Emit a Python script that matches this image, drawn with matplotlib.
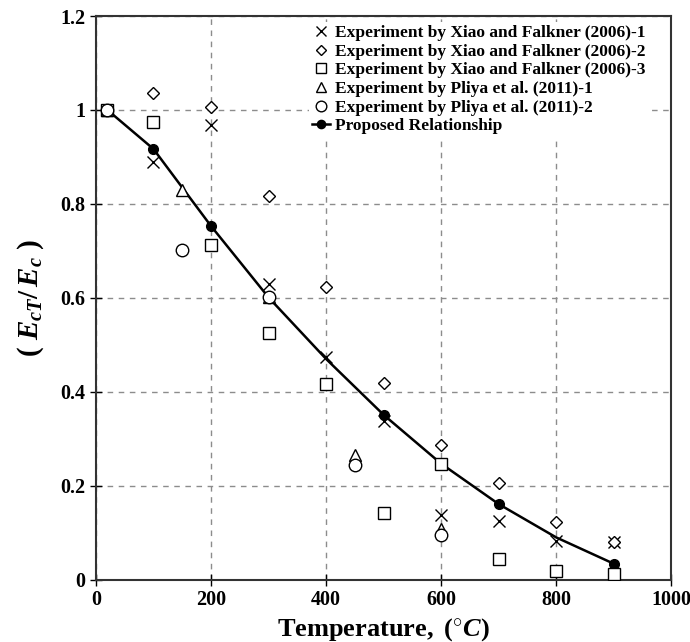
import matplotlib
matplotlib.use("Agg")
from matplotlib import pyplot as plt

plt.rcParams['font.family'] = 'Liberation Serif'
plt.rcParams['font.weight'] = 'bold'
plt.rcParams['mathtext.fontset'] = 'custom'
plt.rcParams['mathtext.rm'] = 'Liberation Serif:bold'
plt.rcParams['mathtext.it'] = 'Liberation Serif:bold:italic'
plt.rcParams['mathtext.bf'] = 'Liberation Serif:bold'

# Xiao and Falkner (2006)
xiao_temp = [20, 100, 200, 300, 400, 500, 600, 700, 800, 900]
xiao_1 = [1.0, 0.890, 0.968, 0.630, 0.474, 0.338, 0.137, 0.125, 0.083, 0.081]
xiao_2 = [1.0, 1.037, 1.006, 0.817, 0.623, 0.419, 0.287, 0.205, 0.123, 0.081]
xiao_3 = [1.0, 0.974, 0.713, 0.525, 0.417, 0.141, 0.247, 0.045, 0.019, 0.012]

# Pliya et al. (2011)
pliya_temp = [20, 150, 300, 450, 600]
pliya_1 = [1.0, 0.830, 0.601, 0.265, 0.107]
pliya_2 = [1.0, 0.703, 0.601, 0.245, 0.096]

# Proposed relationship
prop_temp = [20, 100, 200, 300, 400, 500, 600, 700, 800, 900]
prop_val = [1.0, 0.917, 0.753, 0.601, 0.470, 0.351, 0.247, 0.161, 0.090, 0.034]

fig = plt.figure(figsize=(6.9, 6.42), dpi=100)
ax = fig.add_axes([0.139, 0.097, 0.834, 0.878])

# proposed curve underneath the open markers
ax.plot(prop_temp, prop_val, color='black', linewidth=1.8, marker='o', markersize=7,
        markerfacecolor='black', markevery=[0, 1, 2, 3, 5, 6, 7, 9],
        label='Proposed Relationship', zorder=2)

mk = dict(linestyle='none', markerfacecolor='white', markeredgecolor='black',
          markeredgewidth=1.0, color='black', zorder=3)
ax.plot(xiao_temp, xiao_1, marker='x', markersize=9, label='Experiment by Xiao and Falkner (2006)-1', **mk)
ax.plot(xiao_temp, xiao_2, marker='D', markersize=6.5, label='Experiment by Xiao and Falkner (2006)-2', **mk)
ax.plot(xiao_temp, xiao_3, marker='s', markersize=9, label='Experiment by Xiao and Falkner (2006)-3', **mk)
ax.plot(pliya_temp, pliya_1, marker='^', markersize=9, label='Experiment by Pliya et al. (2011)-1', **mk)
ax.plot(pliya_temp, pliya_2, marker='o', markersize=9, label='Experiment by Pliya et al. (2011)-2', **mk)

ax.set_xlim(0, 1000)
ax.set_ylim(0, 1.2)
ax.set_xticks([0, 200, 400, 600, 800, 1000])
ax.set_yticks([0, 0.2, 0.4, 0.6, 0.8, 1.0, 1.2])
ax.set_xticklabels(['0', '200', '400', '600', '800', '1000'])
ax.set_yticklabels(['0', '0.2', '0.4', '0.6', '0.8', '1', '1.2'])
ax.tick_params(direction='inout', length=8, width=1, labelsize=14.5)
ax.grid(True, linestyle=(0, (4, 4)), color='#8c8c8c', linewidth=1)
ax.set_axisbelow(True)
for s in ax.spines.values():
    s.set_linewidth(1.5)
    s.set_color('#333333')

ax.set_xlabel(r'$\mathrm{Temperature,\ }\mathit{(^{\circ}C)}$', fontsize=19, labelpad=4)
ax.set_ylabel(r'$\mathit{(\ E_{cT}/\,E_c\ )}$', fontsize=21, labelpad=10)

handles, labels = ax.get_legend_handles_labels()
order = [1, 2, 3, 4, 5, 0]
leg = ax.legend([handles[i] for i in order], [labels[i] for i in order],
                loc='upper left', bbox_to_anchor=(0.37, 0.99), frameon=True,
                framealpha=1, edgecolor='none', fontsize=12.5, handlelength=1.0,
                handletextpad=0.3, labelspacing=0.14, borderpad=0.2, borderaxespad=0,
                markerscale=0.85)
leg.get_frame().set_linewidth(0)
leg.set_zorder(5)

fig.savefig('out.png', dpi=100)
